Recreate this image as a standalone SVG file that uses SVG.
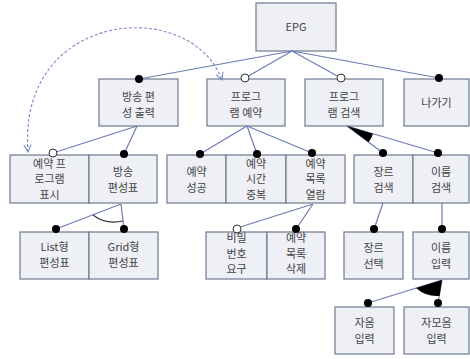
<svg xmlns="http://www.w3.org/2000/svg" width="470" height="359" viewBox="0 0 470 359">
<defs>
<style>
.b{fill:#eef0f6;stroke:#6f7a90;stroke-width:1.2}
.t{font-family:"Noto Sans CJK KR","Noto Sans",sans-serif;font-size:11px;fill:#444;text-anchor:middle}
.l{stroke:#6b7db3;stroke-width:1.2;fill:none}
.d{fill:#000}
.h{fill:#fff;stroke:#333;stroke-width:1}
.da{stroke:#7a8cc8;stroke-width:1.1;fill:none;stroke-dasharray:3 2;marker-start:url(#ah);marker-end:url(#ah)}
</style>
<marker id="ah" viewBox="0 0 10 10" refX="9" refY="5" markerWidth="9" markerHeight="9" orient="auto-start-reverse" markerUnits="userSpaceOnUse">
<path d="M1,1 L9,5 L1,9" fill="none" stroke="#7a8cc8" stroke-width="1.2"/>
</marker>
</defs>
<rect width="470" height="359" fill="#fff"/>
<g id="epg"><rect class="b" x="256" y="3" width="80" height="48"/><text class="t" x="296" y="31">EPG</text></g>
<g id="n-broadcast-out"><rect class="b" x="99" y="79" width="79" height="47"/><text class="t" x="138.5" y="101">방송 편</text><text class="t" x="138.5" y="117">성 출력</text></g>
<g id="n-prog-reserve"><rect class="b" x="207" y="79" width="78" height="47"/><text class="t" x="246" y="101">프로그</text><text class="t" x="246" y="117">램 예약</text></g>
<g id="n-prog-search"><rect class="b" x="305" y="79" width="78" height="47"/><text class="t" x="344" y="101">프로그</text><text class="t" x="344" y="117">램 검색</text></g>
<g id="n-exit"><rect class="b" x="404" y="79" width="65" height="47"/><text class="t" x="436.5" y="106.5">나가기</text></g>
<g id="n-reserved-show"><rect class="b" x="10" y="155" width="79" height="48"/><text class="t" x="49.5" y="167.5">예약 프</text><text class="t" x="49.5" y="183">로그램</text><text class="t" x="49.5" y="198.5">표시</text></g>
<g id="n-schedule"><rect class="b" x="89" y="155" width="68" height="48"/><text class="t" x="123" y="176">방송</text><text class="t" x="123" y="192">편성표</text></g>
<g id="n-res-ok"><rect class="b" x="167" y="155" width="59" height="48"/><text class="t" x="196.5" y="176">예약</text><text class="t" x="196.5" y="192">성공</text></g>
<g id="n-res-dup"><rect class="b" x="226" y="155" width="60" height="48"/><text class="t" x="256" y="167.5">예약</text><text class="t" x="256" y="183">시간</text><text class="t" x="256" y="198.5">중복</text></g>
<g id="n-res-list"><rect class="b" x="286" y="155" width="59" height="48"/><text class="t" x="315.5" y="167.5">예약</text><text class="t" x="315.5" y="183">목록</text><text class="t" x="315.5" y="198.5">열람</text></g>
<g id="n-genre-search"><rect class="b" x="354" y="155" width="59" height="48"/><text class="t" x="383.5" y="176">장르</text><text class="t" x="383.5" y="192">검색</text></g>
<g id="n-name-search"><rect class="b" x="413" y="155" width="56" height="48"/><text class="t" x="441" y="176">이름</text><text class="t" x="441" y="192">검색</text></g>
<g id="n-list"><rect class="b" x="20" y="232" width="69" height="47"/><text class="t" x="54.5" y="251">List형</text><text class="t" x="54.5" y="266.5">편성표</text></g>
<g id="n-grid"><rect class="b" x="89" y="232" width="69" height="47"/><text class="t" x="123.5" y="251">Grid형</text><text class="t" x="123.5" y="266.5">편성표</text></g>
<g id="n-password"><rect class="b" x="206" y="232" width="61" height="47"/><text class="t" x="236.5" y="242">비밀</text><text class="t" x="236.5" y="257.5">번호</text><text class="t" x="236.5" y="273">요구</text></g>
<g id="n-res-delete"><rect class="b" x="267" y="232" width="58" height="47"/><text class="t" x="296" y="242">예약</text><text class="t" x="296" y="257.5">목록</text><text class="t" x="296" y="273">삭제</text></g>
<g id="n-genre-select"><rect class="b" x="344" y="232" width="59" height="47"/><text class="t" x="373.5" y="252">장르</text><text class="t" x="373.5" y="268">선택</text></g>
<g id="n-name-input"><rect class="b" x="413" y="232" width="56" height="47"/><text class="t" x="441" y="252">이름</text><text class="t" x="441" y="268">입력</text></g>
<g id="n-consonant"><rect class="b" x="335" y="307" width="59" height="47"/><text class="t" x="364.5" y="326.5">자음</text><text class="t" x="364.5" y="342.5">입력</text></g>
<g id="n-jamo"><rect class="b" x="404" y="307" width="65" height="47"/><text class="t" x="436.5" y="326.5">자모음</text><text class="t" x="436.5" y="342.5">입력</text></g>
<g id="connectors">
<path class="l" d="M292,51 L139,79 M292,51 L245,78 M292,51 L341,78 M292,51 L439,78"/>
<path class="l" d="M137,126 L53,153 M137,126 L124,154"/>
<path class="l" d="M247,126 L200,154 M247,126 L257,154 M247,126 L312,153"/>
<path class="l" d="M347,126 L383,153 M347,126 L438,153"/>
<path d="M347,126 L373,133.7 A27,27 0 0 1 368.6,142.2 Z" fill="#000"/>
<path class="l" d="M121,204 L56,229 M121,204 L124,229"/>
<path d="M93,215 Q106,225 123,221" fill="none" stroke="#333" stroke-width="1.1"/>
<path class="l" d="M313,204 L237,228 M313,204 L296,229"/>
<path class="l" d="M383,203 L374,229 M442,203 L442,229"/>
<path class="l" d="M442,280 L368,303 M442,280 L438,303"/>
<path d="M442,280 L416,288 Q426,297 439.5,296 Z" fill="#000"/>
<path class="da" d="M28,152 C17,10 190,-5 222,80"/>
<circle class="d" cx="139" cy="79" r="4"/>
<circle class="h" cx="245" cy="78" r="4"/>
<circle class="h" cx="341" cy="78" r="4"/>
<circle class="d" cx="439" cy="78" r="4"/>
<circle class="h" cx="53" cy="153" r="4"/>
<circle class="d" cx="124" cy="154" r="4"/>
<circle class="d" cx="200" cy="154" r="4"/>
<circle class="d" cx="257" cy="154" r="4"/>
<circle class="d" cx="312" cy="153" r="4"/>
<circle class="d" cx="383" cy="153" r="4"/>
<circle class="d" cx="438" cy="153" r="4"/>
<circle class="d" cx="56" cy="229" r="4"/>
<circle class="d" cx="124" cy="229" r="4"/>
<circle class="h" cx="237" cy="229" r="4"/>
<circle class="d" cx="296" cy="229" r="4"/>
<circle class="d" cx="374" cy="229" r="4"/>
<circle class="d" cx="442" cy="229" r="4"/>
<circle class="d" cx="368" cy="303" r="4"/>
<circle class="d" cx="438" cy="303" r="4"/>
</g>
</svg>
